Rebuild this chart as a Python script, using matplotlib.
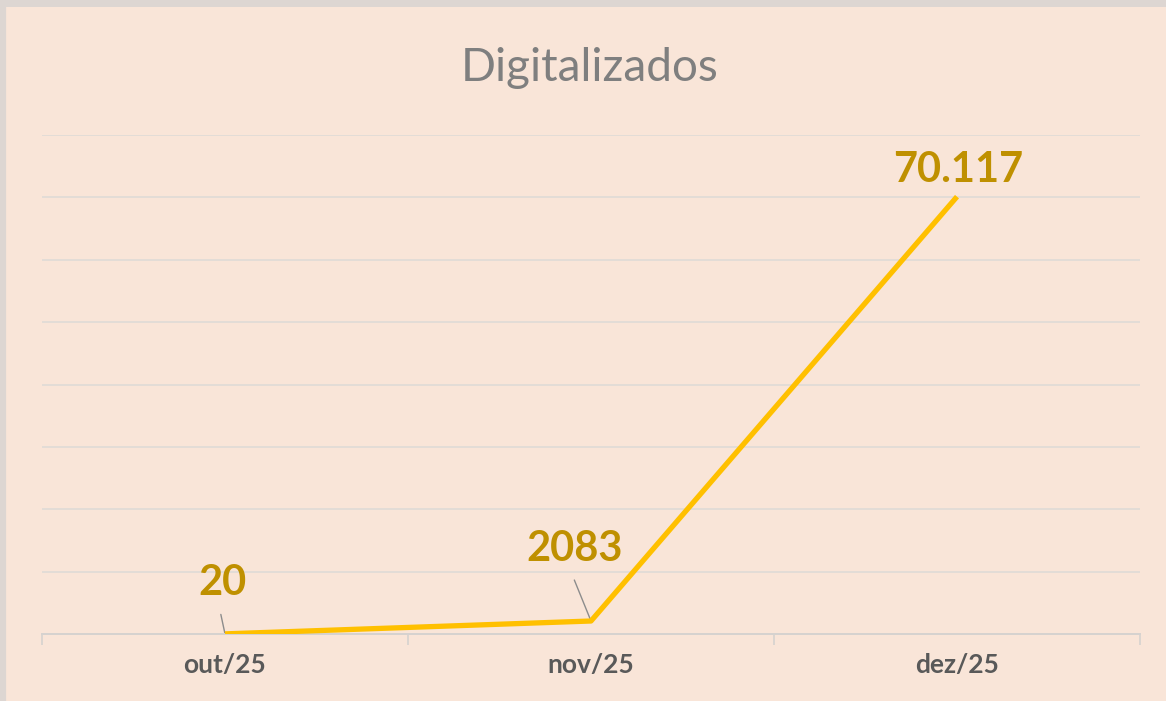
import matplotlib
matplotlib.use("Agg")
import matplotlib.pyplot as plt
from matplotlib.lines import Line2D

categories = ["out/25", "nov/25", "dez/25"]
values = [20, 2083, 70117]
value_labels = ["20", "2083", "70.117"]
title = "Digitalizados"

plt.rcParams['font.family'] = ['Lato', 'DejaVu Sans']

bg = "#F9E5D8"
line_color = "#FFC000"
label_color = "#BF9000"

fig = plt.figure(figsize=(11.66, 7.01), dpi=100)
fig.patch.set_facecolor(bg)
# thin grey screenshot edge at top and left
fig.add_artist(Line2D([0, 1], [1 - 3/701, 1 - 3/701], transform=fig.transFigure,
                      color="#DDD6D2", lw=5))
fig.add_artist(Line2D([3/1166, 3/1166], [0, 1], transform=fig.transFigure,
                      color="#DDD6D2", lw=4.5))

ax = fig.add_axes([42/1166, 67/701, 1098/1166, 499/701])
ax.set_facecolor(bg)

x = list(range(len(categories)))
ax.plot(x, values, color=line_color, lw=3.8, solid_capstyle="butt", zorder=3)

ax.set_xlim(-0.5, 2.5)
ax.set_ylim(0, 80000)
ax.set_yticks(range(0, 80001, 10000))
ax.yaxis.grid(True, color="#E3DCD6", lw=1.4)
ax.set_axisbelow(True)
ax.tick_params(axis="y", left=False, labelleft=False)
for s in ["top", "right", "left"]:
    ax.spines[s].set_visible(False)
ax.spines["bottom"].set_color("#D6D2CF")
ax.spines["bottom"].set_linewidth(1.4)

ax.set_xticks(x)
ax.set_xticklabels(categories, fontsize=19, fontweight="bold", color="#595959")
ax.tick_params(axis="x", which="major", length=0, pad=14)
ax.set_xticks([-0.5, 0.5, 1.5, 2.5], minor=True)
ax.tick_params(axis="x", which="minor", length=8, color="#D6D2CF", width=1.2)

# data labels (offsets in points, text centre relative to data point)
offsets = [(-2, 36.5), (-12, 52), (0.5, 19.5)]
for xi, v, lab, (dx, dy) in zip(x, values, value_labels, offsets):
    ax.annotate(lab, xy=(xi, v), xytext=(dx, dy), textcoords="offset points",
                ha="center", va="center", fontsize=30, fontweight="bold",
                color=label_color, zorder=4)
leaders = [((0, 20), (-3, 14)), ((1, 2083), (-12, 29.5))]
for (xy, off) in leaders:
    ax.annotate("", xy=xy, xytext=off, textcoords="offset points",
                arrowprops=dict(arrowstyle="-", color="#8C8C8C", lw=1.0,
                                shrinkA=0, shrinkB=0), zorder=2)

fig.text(590/1166, 1 - 68/701, title, ha="center", va="center",
         fontsize=33, color="#7F7F7F")

fig.savefig("out.png", dpi=100, facecolor=bg)
